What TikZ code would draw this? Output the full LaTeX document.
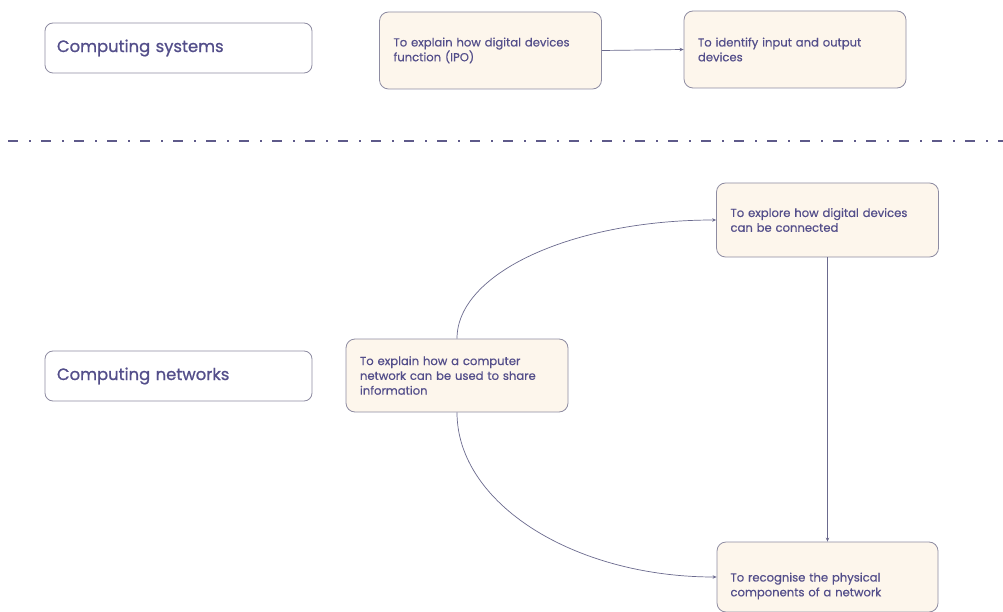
\documentclass[tikz,border=0pt]{standalone}
\usepackage{fontspec}
\setmainfont{Poppins}
\newfontfamily\hdrfont[FakeBold=0.9]{Poppins}
\newfontfamily\boxfont[FakeBold=0.45]{Poppins}
\usetikzlibrary{arrows.meta}
\definecolor{txt}{HTML}{534E8A}
\definecolor{edgec}{HTML}{8E8CA2}
\definecolor{fillc}{HTML}{FDF6EC}
\definecolor{conn}{HTML}{6B6A8E}
\definecolor{sepc}{HTML}{5E5A8A}
\begin{document}
\begin{tikzpicture}[x=1pt,y=-1pt,
  hdrbox/.style={draw=edgec, line width=0.8pt, rounded corners=8pt, fill=white,
    minimum width=267pt, minimum height=50pt, text width=243pt, inner xsep=12pt, inner ysep=0pt,
    align=left, text=txt, font=\hdrfont\fontsize{16.4}{19}\selectfont},
  objtext/.style={text width=194pt, inner xsep=14pt, inner ysep=0pt,
    align=left, text=txt, font=\boxfont\fontsize{11.6}{14.8}\selectfont},
  objbox/.style={draw=edgec, line width=0.8pt, rounded corners=9pt, fill=fillc, objtext},
  conn/.style={draw=conn, line width=0.7pt, -{Stealth[length=4pt,width=3.5pt]}},
  sepline/.style={draw=sepc, line width=2pt, dash pattern=on 10pt off 11pt on 2pt off 10pt}
]
\useasboundingbox (0,0) rectangle (1003,612);
\fill[white] (0,0) rectangle (1003,612);

\node[hdrbox] (sys) at (178.5,48) {Computing systems};
\node[objbox, minimum width=221pt, minimum height=77pt] (ipo) at (490.5,50.5)
  {To explain how digital devices\\function (IPO)};
\node[objbox, minimum width=222pt, minimum height=77pt] (idf) at (795,49.5)
  {To identify input and output\\devices};

\coordinate (sepL) at (8,141);
\coordinate (sepR) at (1003,141);
\draw[sepline] (sepL) -- (sepR);

\node[objbox, minimum width=221pt, minimum height=74pt] (exp) at (827.5,220)
  {To explore how digital devices\\can be connected};
\node[hdrbox] (nets) at (178.5,376) {Computing networks};
\node[objbox, minimum width=222pt, minimum height=73pt] (net) at (457,375.5)
  {To explain how a computer\\network can be used to share\\information};
\node[draw=edgec, line width=0.8pt, rounded corners=9pt, fill=fillc,
      minimum width=221pt, minimum height=70pt, inner sep=0pt,
      label={[objtext, yshift=-9pt]center:{To recognise the physical\\components of a network}}]
  (rec) at (827.5,577) {};

\draw[conn] (ipo.east) -- (idf.west);
\draw[conn] (net.north) to[out=90, in=180, out distance=66pt, in distance=143pt] (exp.west);
\draw[conn] (net.south) to[out=-90, in=180, out distance=91pt, in distance=143pt] (rec.west);
\draw[conn] (exp.south) -- (rec.north);
\end{tikzpicture}
\end{document}
